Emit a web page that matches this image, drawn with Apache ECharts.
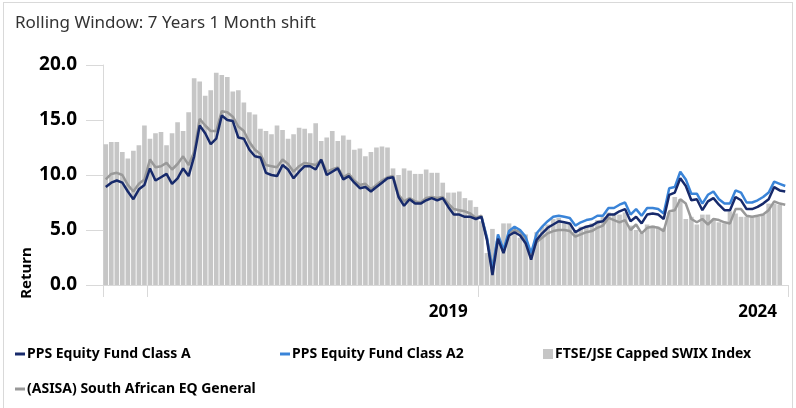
<!DOCTYPE html>
<html>
<head>
<meta charset="utf-8">
<script src="https://cdn.jsdelivr.net/npm/echarts@6/dist/echarts.min.js"></script>
<style>
  html, body { margin: 0; padding: 0; background: #fff; }
  #frame { position: absolute; left: 3px; top: 2px; width: 790px; height: 420px; border: 1px solid #d9d9d9; box-sizing: border-box; }
  #chart { position: absolute; left: 0; top: 0; width: 796px; height: 408px; }
</style>
</head>
<body>
<div id="frame"></div>
<div id="chart"></div>
<script>
// Monthly rolling-window end dates (124 periods)
const months = [];
for (let k = 0; k < 124; k++) {
  const y = 2013 + Math.floor((4 + k) / 12);
  const m = ((4 + k) % 12) + 1;
  months.push(y + '-' + String(m).padStart(2, '0'));
}

// Year labels shown under the axis: category index -> text
const yearLabels = [
  { index: 62, text: '2019' },
  { index: 118, text: '2024' }
];
// Category indices where a year boundary tick is drawn
const yearTicks = [0, 8, 68];

const seriesNames = [
  'PPS Equity Fund Class A',
  'PPS Equity Fund Class A2',
  'FTSE/JSE Capped SWIX Index',
  '(ASISA) South African EQ General'
];

const classA = [
  8.9, 9.3, 9.5, 9.3, 8.5, 7.8, 8.7, 9.1, 10.6, 9.5,
  9.8, 10.1, 9.2, 9.7, 10.6, 9.9, 11.7, 14.5, 13.8, 12.8,
  13.3, 15.4, 15.0, 14.9, 13.4, 13.3, 12.3, 11.7, 11.6, 10.2,
  10.0, 9.9, 10.9, 10.5, 9.7, 10.3, 10.8, 10.8, 10.5, 11.4,
  10.0, 10.3, 10.6, 9.6, 9.9, 9.3, 8.8, 8.9, 8.5, 8.9,
  9.3, 9.7, 9.8, 8.0, 7.2, 7.8, 7.4, 7.4, 7.7, 7.9,
  7.7, 7.9, 7.1, 6.4, 6.4, 6.2, 6.2, 6.0, 6.2, 4.1,
  0.9, 4.2, 2.9, 4.5, 4.8, 4.5, 3.8, 2.3, 4.1, 4.7,
  5.2, 5.5, 5.8, 5.7, 5.6, 4.8, 5.1, 5.3, 5.4, 5.7,
  5.8, 6.4, 6.4, 6.7, 6.9, 5.8, 6.2, 5.6, 6.4, 6.5,
  6.4, 6.0, 8.2, 8.4, 9.7, 9.0, 7.7, 7.8, 6.8, 7.6,
  7.9, 7.3, 6.8, 6.8, 8.0, 7.7, 6.9, 6.9, 7.1, 7.4,
  7.8, 8.9, 8.6, 8.5
];

const classA2 = [
  null, null, null, null, null, null, null, null, null, null,
  null, null, null, null, null, null, null, null, null, null,
  null, null, null, null, null, null, null, null, null, null,
  null, null, null, null, null, null, null, null, null, null,
  null, null, null, null, null, null, null, null, null, null,
  null, null, null, null, null, null, null, null, null, null,
  null, null, null, null, null, null, null, null, 6.2, 4.3,
  1.3, 4.6, 3.2, 4.9, 5.3, 5.0, 4.4, 2.9, 4.7, 5.3,
  5.8, 6.2, 6.3, 6.2, 6.1, 5.4, 5.7, 5.9, 6.0, 6.3,
  6.3, 7.0, 7.0, 7.3, 7.5, 6.4, 6.9, 6.3, 7.0, 7.0,
  6.9, 6.5, 8.8, 8.9, 10.3, 9.6, 8.3, 8.3, 7.4, 8.2,
  8.5, 7.8, 7.4, 7.4, 8.6, 8.4, 7.5, 7.5, 7.7, 8.0,
  8.4, 9.4, 9.2, 9.0
];

const swixIndex = [
  12.8, 13.0, 13.0, 12.1, 11.5, 12.2, 12.7, 14.5, 13.3, 13.8,
  13.9, 12.7, 13.8, 14.8, 14.0, 15.7, 18.8, 18.5, 17.2, 17.7,
  19.3, 19.1, 18.9, 17.6, 17.7, 16.6, 15.7, 15.5, 14.2, 14.0,
  13.7, 14.5, 14.1, 13.3, 13.7, 14.3, 14.2, 13.8, 14.7, 13.1,
  13.4, 14.0, 13.1, 13.6, 13.2, 12.3, 12.4, 11.7, 12.1, 12.5,
  12.6, 12.5, 10.6, 10.0, 10.6, 10.4, 10.1, 10.1, 10.5, 10.2,
  10.2, 9.3, 8.4, 8.4, 8.5, 7.9, 7.7, 7.1, 5.8, 2.9,
  5.1, 4.0, 5.6, 5.6, 4.8, 4.3, 4.6, 3.1, 4.8, 5.3,
  5.5, 6.0, 6.1, 5.6, 5.6, 5.0, 5.3, 5.4, 5.6, 5.9,
  6.2, 6.6, 6.5, 6.4, 6.6, 5.4, 5.0, 4.7, 5.5, 5.4,
  5.3, 5.2, 6.6, 8.0, 7.8, 6.0, 6.2, 5.5, 6.4, 6.4,
  5.9, 5.7, 5.6, 6.7, 6.5, 6.2, 6.2, 6.2, 6.2, 6.4,
  7.4, 7.4, 7.3, null
];

const asisaGeneral = [
  9.6, 10.1, 10.2, 10.0, 9.1, 8.5, 9.2, 9.6, 11.4, 10.7,
  10.8, 11.1, 10.5, 11.0, 11.7, 10.9, 12.1, 15.1, 14.5, 14.0,
  14.0, 15.8, 15.7, 15.3, 14.4, 14.0, 13.0, 12.3, 11.9, 10.9,
  10.8, 10.7, 11.4, 11.0, 10.3, 10.8, 11.1, 11.0, 10.9, 11.4,
  10.3, 10.5, 10.7, 9.8, 10.1, 9.5, 9.1, 9.2, 8.7, 9.1,
  9.5, 9.8, 9.9, 8.2, 7.6, 7.9, 7.6, 7.5, 7.9, 8.0,
  7.9, 8.0, 7.4, 6.9, 6.8, 6.7, 6.5, 6.1, 6.3, 4.3,
  1.6, 4.4, 3.0, 4.7, 5.0, 4.8, 4.1, 2.8, 3.9, 4.3,
  4.7, 4.9, 5.0, 5.0, 4.9, 4.4, 4.6, 4.8, 4.9, 5.2,
  5.4, 6.1, 5.9, 5.7, 5.9, 5.0, 5.5, 4.7, 5.2, 5.3,
  5.2, 4.9, 6.7, 6.8, 7.8, 7.4, 6.0, 5.7, 6.0, 5.5,
  6.0, 5.9, 5.7, 5.6, 6.9, 6.9, 6.3, 6.2, 6.3, 6.4,
  6.8, 7.6, 7.4, 7.3
];

const colors = {
  classA: '#172a6b',
  classA2: '#3a84d8',
  swix: '#c6c6c6',
  asisa: '#999999',
  axis: '#d9d9d9'
};
const FONT = '"Noto Sans", "Open Sans", sans-serif';

const chart = echarts.init(document.getElementById('chart'), null, { renderer: 'canvas' });

function legendAt(name, left, top, isBar) {
  return {
    data: [name],
    left: left,
    top: top,
    padding: 0,
    icon: 'rect',
    itemWidth: 10,
    itemHeight: isBar ? 10 : 3,
    selectedMode: false,
    textStyle: { fontFamily: FONT, fontWeight: 'bold', fontSize: 14, color: '#000', padding: [0, 0, 0, -3] }
  };
}

chart.setOption({
  animation: false,
  textStyle: { fontFamily: FONT },
  title: {
    text: 'Rolling Window: 7 Years 1 Month shift',
    left: 15,
    top: 15,
    padding: 0,
    textStyle: { fontFamily: FONT, fontWeight: 'normal', fontSize: 17, color: '#333' }
  },
  legend: [
    legendAt(seriesNames[0], 15, 347, false),
    legendAt(seriesNames[1], 280, 347, false),
    legendAt(seriesNames[2], 543, 347, true),
    legendAt(seriesNames[3], 15, 382, false)
  ],
  graphic: [{
    type: 'text',
    x: 27,
    y: 273,
    rotation: Math.PI / 2,
    style: {
      text: 'Return',
      font: 'bold 15px ' + FONT,
      fill: '#000',
      textAlign: 'center',
      textVerticalAlign: 'middle'
    }
  }],
  grid: { left: 103, right: 8, top: 65, bottom: 123, containLabel: false },
  xAxis: {
    type: 'category',
    data: months,
    boundaryGap: true,
    axisLine: { show: true, lineStyle: { color: colors.axis, width: 1 } },
    axisTick: {
      show: true,
      length: 12,
      lineStyle: { color: colors.axis, width: 1 },
      interval: function (i) { return yearTicks.indexOf(i) >= 0; }
    },
    axisLabel: {
      interval: function (i) { return yearLabels.some(function (l) { return l.index === i; }); },
      formatter: function (v, i) {
        const l = yearLabels.find(function (x) { return x.index === i; });
        return l ? l.text : '';
      },
      fontFamily: FONT,
      fontWeight: 'bold',
      fontSize: 17,
      color: '#000',
      margin: 19
    },
    splitLine: { show: false }
  },
  yAxis: {
    type: 'value',
    min: 0,
    max: 20,
    interval: 5,
    axisLine: { show: true, lineStyle: { color: colors.axis, width: 1 } },
    axisTick: { show: true, length: 17, lineStyle: { color: colors.axis, width: 1 } },
    splitLine: { show: false },
    axisLabel: {
      formatter: function (v) { return v.toFixed(1); },
      fontFamily: FONT,
      fontWeight: 'bold',
      fontSize: 19,
      color: '#000',
      margin: 26
    }
  },
  series: [
    {
      name: seriesNames[2],
      type: 'bar',
      data: swixIndex,
      barWidth: '84%',
      itemStyle: { color: colors.swix },
      z: 1
    },
    {
      name: seriesNames[3],
      type: 'line',
      data: asisaGeneral,
      symbol: 'none',
      lineStyle: { color: colors.asisa, width: 2.5 },
      itemStyle: { color: colors.asisa },
      z: 2
    },
    {
      name: seriesNames[1],
      type: 'line',
      data: classA2,
      symbol: 'none',
      lineStyle: { color: colors.classA2, width: 2.5 },
      itemStyle: { color: colors.classA2 },
      z: 3
    },
    {
      name: seriesNames[0],
      type: 'line',
      data: classA,
      symbol: 'none',
      lineStyle: { color: colors.classA, width: 2.5 },
      itemStyle: { color: colors.classA },
      z: 4
    }
  ]
});
</script>
</body>
</html>
